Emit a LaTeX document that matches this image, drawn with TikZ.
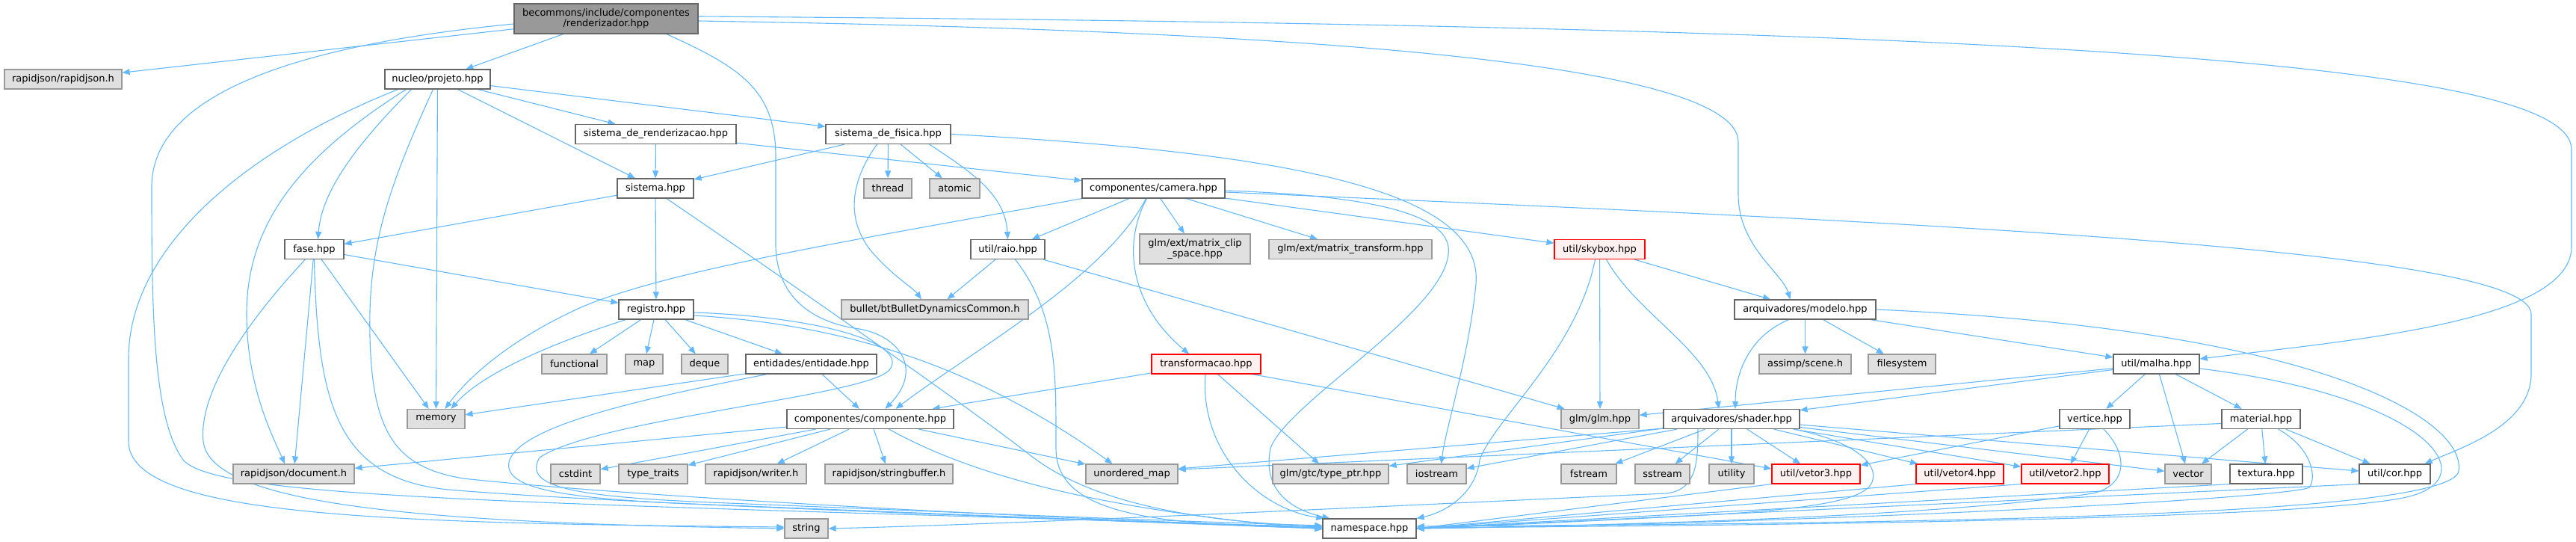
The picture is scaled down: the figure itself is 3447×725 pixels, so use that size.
\documentclass[tikz,border=0pt]{standalone}
\usepackage{fontspec}
\setmainfont{DejaVu Sans}
\usetikzlibrary{arrows.meta,calc}
\definecolor{edgec}{HTML}{63B8FF}
\definecolor{bdark}{HTML}{666666}
\definecolor{bgray}{HTML}{999999}
\definecolor{fgray}{HTML}{E0E0E0}
\definecolor{fred}{HTML}{FFF0F0}
\definecolor{bred}{HTML}{FF0000}
\pgfdeclarelayer{bg}
\pgfsetlayers{bg,main}
\begin{document}
\begin{tikzpicture}[x=1pt,y=-1pt,
  base/.style={draw, line width=1.2pt, minimum height=26pt, inner xsep=2pt, inner ysep=0pt,
    font=\fontsize{13}{14.5}\selectfont, align=center, text=black},
  nd/.style={base, draw=bdark, fill=white},
  ext/.style={base, draw=bgray, fill=fgray},
  redbox/.style={base, draw=bred, fill=fred},
  rootbox/.style={base, draw=bdark, fill=bgray, minimum height=40pt},
  dep/.style={draw=edgec, line width=1.1pt, -{Triangle[length=10pt,width=8pt]}}]
\useasboundingbox (0,0) rectangle (3447,725);

% ---------- nodes ----------
\node[rootbox, minimum width=246pt] (T) at (811,25) {becommons/include/componentes\\/renderizador.hpp};
\node[ext, minimum width=157pt] (rj) at (84.5,106) {rapidjson/rapidjson.h};
\node[nd, minimum width=141pt] (P) at (585.5,106) {nucleo/projeto.hpp};
\node[nd, minimum width=215pt] (SR) at (877.5,179.5) {sistema\_de\_renderizacao.hpp};
\node[nd, minimum width=167pt] (SF) at (1188.5,179.5) {sistema\_de\_fisica.hpp};
\node[nd, minimum width=102pt] (S) at (877,252) {sistema.hpp};
\node[ext, minimum width=64pt] (thread) at (1188,252) {thread};
\node[ext, minimum width=67pt] (atomic) at (1277.5,252) {atomic};
\node[nd, minimum width=191pt] (C) at (1543.5,252) {componentes/camera.hpp};
\node[nd, minimum width=79pt] (F) at (420.5,333.5) {fase.hpp};
\node[nd, minimum width=99pt] (R) at (1348.5,333.5) {util/raio.hpp};
\node[ext, minimum width=148pt, minimum height=40pt] (mcs) at (1599,333) {glm/ext/matrix\_clip\\\_space.hpp};
\node[ext, minimum width=218pt] (mt) at (1807,333.5) {glm/ext/matrix\_transform.hpp};
\node[redbox, minimum width=121pt] (SK) at (2140.5,333.5) {util/skybox.hpp};
\node[nd, minimum width=100pt] (RG) at (878,414) {registro.hpp};
\node[ext, minimum width=250pt] (bullet) at (1251,414) {bullet/btBulletDynamicsCommon.h};
\node[nd, minimum width=189pt] (M) at (2415.5,414) {arquivadores/modelo.hpp};
\node[ext, minimum width=87pt] (functional) at (768.5,487) {functional};
\node[ext, minimum width=50pt] (map) at (862,487) {map};
\node[ext, minimum width=62pt] (deque) at (943,487) {deque};
\node[nd, minimum width=175pt] (E) at (1085.5,487) {entidades/entidade.hpp};
\node[redbox, minimum width=146pt] (TR) at (1614,487) {transformacao.hpp};
\node[ext, minimum width=123pt] (assimp) at (2415.5,487) {assimp/scene.h};
\node[ext, minimum width=90pt] (filesystem) at (2545,487) {filesystem};
\node[nd, minimum width=115pt] (MA) at (2885.5,487) {util/malha.hpp};
\node[ext, minimum width=77pt] (memory) at (583.5,560.5) {memory};
\node[nd, minimum width=223pt] (CP) at (1164.5,560.5) {componentes/componente.hpp};
\node[ext, minimum width=104pt] (glm) at (2141,560.5) {glm/glm.hpp};
\node[nd, minimum width=182pt] (SH) at (2317,560.5) {arquivadores/shader.hpp};
\node[nd, minimum width=94pt] (V) at (2803,560.5) {vertice.hpp};
\node[nd, minimum width=105pt] (MT) at (3025.5,560.5) {material.hpp};
\node[ext, minimum width=162pt] (document) at (393,634) {rapidjson/document.h};
\node[ext, minimum width=66pt] (cstdint) at (770,634) {cstdint};
\node[ext, minimum width=92pt] (typetraits) at (874,634) {type\_traits};
\node[ext, minimum width=135pt] (writer) at (1011.5,634) {rapidjson/writer.h};
\node[ext, minimum width=171pt] (strbuf) at (1189.5,634) {rapidjson/stringbuffer.h};
\node[ext, minimum width=123pt] (umap) at (1514.5,634) {unordered\_map};
\node[ext, minimum width=155pt] (typeptr) at (1780.5,634) {glm/gtc/type\_ptr.hpp};
\node[ext, minimum width=79pt] (iostream) at (1922.5,634) {iostream};
\node[ext, minimum width=74pt] (fstream) at (2126,634) {fstream};
\node[ext, minimum width=73pt] (sstream) at (2224.5,634) {sstream};
\node[ext, minimum width=60pt] (utility) at (2317,634) {utility};
\node[redbox, minimum width=118pt] (v3) at (2430,634) {util/vetor3.hpp};
\node[redbox, minimum width=117pt] (v4) at (2622.5,634) {util/vetor4.hpp};
\node[redbox, minimum width=117pt] (v2) at (2763.5,634) {util/vetor2.hpp};
\node[ext, minimum width=62pt] (vector) at (2928,634) {vector};
\node[nd, minimum width=97pt] (textura) at (3032.5,634) {textura.hpp};
\node[nd, minimum width=95pt] (cor) at (3204.5,634) {util/cor.hpp};
\node[ext, minimum width=58pt] (string) at (1079,707) {string};
\node[nd, minimum width=125pt] (ns) at (1832.5,707) {namespace.hpp};

% ---------- edges ----------
\begin{pgfonlayer}{bg}
% renderizador
\draw[dep] (T) -- (rj);
\draw[dep] (T) -- (P);
\draw[dep] ($(T.west)+(0,7)$) .. controls (450,55) and (203,110) .. (203,250)
  .. controls (203,420) and (205,560) .. (245,615) .. controls (290,668) and (700,672) .. ($(ns.west)+(0,-2)$);
\draw[dep] ($(T.south)+(81,0)$) .. controls (990,90) and (1038,120) .. (1038,210) -- (1038,330)
  .. controls (1040,400) and (1090,432) .. (1150,440) .. controls (1205,450) and (1235,495) .. ($(CP.north)+(20,0)$);
\draw[dep] ($(T.east)+(0,3)$) .. controls (1700,40) and (2326,80) .. (2326,190) -- (2326,260)
  .. controls (2326,330) and (2385,365) .. ($(M.north)+(-20,0)$);
\draw[dep] ($(T.east)+(0,-3)$) .. controls (2800,35) and (3441,90) .. (3441,200) -- (3441,330)
  .. controls (3441,430) and (3150,455) .. ($(MA.east)+(0,-7)$);
% projeto
\draw[dep] (P) -- (memory);
\draw[dep] (P) -- (S);
\draw[dep] (P) -- (SR);
\draw[dep] (P) -- (SF);
\draw[dep] ($(P.south)+(-53,0)$) .. controls (330,200) and (172,330) .. (172,480) -- (172,590)
  .. controls (172,690) and (500,700) .. ($(string.west)+(0,-2)$);
\draw[dep] ($(P.south)+(-42,0)$) .. controls (400,210) and (330,300) .. (330,420)
  .. controls (330,520) and (368,590) .. ($(document.north)+(-12,0)$);
\draw[dep] ($(P.south)+(-35,0)$) .. controls (470,200) and (430,260) .. ($(F.north)+(5,0)$);
\draw[dep] ($(P.south)+(-6,0)$) .. controls (520,250) and (492,330) .. (495,450)
  .. controls (498,580) and (530,625) .. (620,640) .. controls (800,660) and (1300,690) .. ($(ns.west)+(0,-1)$);
% sistemas
\draw[dep] (SR) -- (S);
\draw[dep] (SR) -- (C);
\draw[dep] (SF) -- (S);
\draw[dep] (SF) -- (thread);
\draw[dep] (SF) -- (atomic);
\draw[dep] ($(SF.south)+(55,0)$) .. controls (1300,230) and (1345,260) .. (R.north);
\draw[dep] ($(SF.south)+(-15,0)$) .. controls (1140,240) and (1130,290) .. (1165,335)
  .. controls (1195,370) and (1222,385) .. ($(bullet.north)+(-18,0)$);
\draw[dep] (SF.east) .. controls (1750,205) and (1985,260) .. (1975,380)
  .. controls (1965,480) and (1935,570) .. ($(iostream.north)+(6,0)$);
\draw[dep] (S) -- (F);
\draw[dep] (S) -- (RG);
\draw[dep] ($(S.south)+(15,0)$) .. controls (1060,380) and (1290,540) .. (1380,610)
  .. controls (1460,672) and (1600,698) .. ($(ns.west)+(0,-3)$);
% camera
\draw[dep] (C) -- (R);
\draw[dep] (C) -- (mcs);
\draw[dep] (C) -- (mt);
\draw[dep] (C) -- (SK);
\draw[dep] (C.south west) .. controls (1150,320) and (900,360) .. (780,410)
  .. controls (690,450) and (630,500) .. ($(memory.north)+(12,0)$);
\draw[dep] ($(C.south)+(-10,0)$) .. controls (1480,370) and (1300,470) .. ($(CP.north)+(34,0)$);
\draw[dep] ($(C.south)+(-9,0)$) .. controls (1500,330) and (1515,410) .. ($(TR.north)+(-23,0)$);
\draw[dep] ($(C.east)+(0,3)$) .. controls (1850,262) and (1945,290) .. (1938,340)
  .. controls (1930,420) and (1720,540) .. (1700,600) .. controls (1690,650) and (1720,680) .. ($(ns.north west)+(10,0)$);
\draw[dep] ($(C.east)+(0,5)$) .. controls (2500,295) and (3387,330) .. (3387,420) -- (3387,500)
  .. controls (3387,570) and (3290,600) .. ($(cor.north east)+(-8,0)$);
% fase
\draw[dep] (F) -- (RG);
\draw[dep] (F) -- (memory);
\draw[dep] (F) -- (document);
\draw[dep] ($(F.south)+(-12,0)$) .. controls (340,420) and (265,520) .. (272,590)
  .. controls (280,680) and (600,700) .. (string.west);
\draw[dep] (F.south) .. controls (425,540) and (450,640) .. (600,655)
  .. controls (800,672) and (1300,690) .. (ns.west);
% raio, skybox
\draw[dep] (R) -- (bullet);
\draw[dep] (R) -- (glm);
\draw[dep] ($(R.south)+(10,0)$) .. controls (1415,420) and (1413,500) .. (1413,600)
  .. controls (1413,690) and (1550,702) .. ($(ns.west)+(0,-1)$);
\draw[dep] (SK) -- (glm);
\draw[dep] (SK) -- (M);
\draw[dep] ($(SK.south)+(-6,0)$) .. controls (2110,470) and (2000,560) .. (1980,615)
  .. controls (1975,660) and (1935,685) .. (ns.north east);
\draw[dep] ($(SK.south)+(9,0)$) .. controls (2190,420) and (2290,470) .. ($(SH.north)+(-17,0)$);
% registro
\draw[dep] (RG) -- (functional);
\draw[dep] (RG) -- (map);
\draw[dep] (RG) -- (deque);
\draw[dep] (RG) -- (E);
\draw[dep] ($(RG.south west)+(10,0)$) .. controls (720,465) and (640,505) .. ($(memory.north)+(20,0)$);
\draw[dep] ($(RG.east)+(0,8)$) .. controls (1150,435) and (1320,500) .. ($(umap.north)+(-26,0)$);
\draw[dep] ($(RG.east)+(0,4)$) .. controls (1100,424) and (1218,460) .. (1190,495)
  .. controls (1160,530) and (800,560) .. (722,612) .. controls (700,650) and (760,664) .. (950,672)
  .. controls (1200,682) and (1500,695) .. ($(ns.west)+(0,-4)$);
% entidade
\draw[dep] (E) -- (memory);
\draw[dep] (E) -- (CP);
\draw[dep] ($(E.south west)+(29,0)$) .. controls (850,535) and (700,570) .. (682,615)
  .. controls (668,655) and (760,668) .. (950,675) .. controls (1200,685) and (1500,697) .. (ns.west);
% transformacao
\draw[dep] (TR) -- (CP);
\draw[dep] (TR) -- (typeptr);
\draw[dep] ($(TR.south east)+(-12,0)$) -- ($(v3.west)+(0,-7)$);
\draw[dep] ($(TR.south)+(-1,0)$) .. controls (1605,600) and (1680,680) .. ($(ns.north west)+(2,0)$);
% componente
\draw[dep] (CP) -- (document);
\draw[dep] (CP) -- (cstdint);
\draw[dep] (CP) -- (typetraits);
\draw[dep] (CP) -- (writer);
\draw[dep] (CP) -- (strbuf);
\draw[dep] (CP) -- (umap);
\draw[dep] ($(CP.south)+(25,0)$) .. controls (1290,630) and (1450,680) .. ($(ns.west)+(0,1)$);
% modelo
\draw[dep] (M) -- (assimp);
\draw[dep] (M) -- (filesystem);
\draw[dep] (M) -- (MA);
\draw[dep] ($(M.south)+(-22,0)$) .. controls (2340,450) and (2322,500) .. ($(SH.north)+(5,0)$);
\draw[dep] (M.east) .. controls (3100,440) and (3300,560) .. (3290,630)
  .. controls (3280,690) and (2600,700) .. ($(ns.east)+(0,-3)$);
% malha
\draw[dep] (MA) -- (glm);
\draw[dep] (MA) -- (SH);
\draw[dep] (MA) -- (V);
\draw[dep] (MA) -- (vector);
\draw[dep] (MA) -- (MT);
\draw[dep] ($(MA.east)+(0,6)$) .. controls (3250,530) and (3330,640) .. (3220,665)
  .. controls (3100,692) and (2500,702) .. ($(ns.east)+(0,-1)$);
% shader
\draw[dep] ($(SH.south west)+(0,-1)$) -- ($(umap.east)+(0,-7)$);
\draw[dep] (SH) -- (typeptr);
\draw[dep] (SH) -- (iostream);
\draw[dep] (SH) -- (fstream);
\draw[dep] (SH) -- (sstream);
\draw[dep] (SH) -- (utility);
\draw[dep] (SH) -- (v3);
\draw[dep] (SH) -- (v4);
\draw[dep] (SH) -- (v2);
\draw[dep] (SH) -- (vector);
\draw[dep] (SH) -- (cor);
\draw[dep] ($(SH.south)+(-45,0)$) .. controls (2272,620) and (2270,655) .. (2230,660)
  .. controls (2000,670) and (1400,700) .. (string.east);
\draw[dep] ($(SH.south east)+(-8,0)$) .. controls (2480,590) and (2515,620) .. (2505,645)
  .. controls (2495,670) and (2420,680) .. (2300,688) .. controls (2150,696) and (2000,703) .. (ns.east);
% vertice, material
\draw[dep] (V) -- (v3);
\draw[dep] (V) -- (v2);
\draw[dep] ($(V.south)+(12,0)$) .. controls (2850,610) and (2845,650) .. (2800,660)
  .. controls (2600,690) and (2200,702) .. (ns.east);
\draw[dep] ($(MT.west)+(0,6)$) -- ($(umap.east)+(0,-6)$);
\draw[dep] (MT) -- (vector);
\draw[dep] (MT) -- (textura);
\draw[dep] (MT) -- (cor);
\draw[dep] ($(MT.south)+(23,0)$) .. controls (3095,600) and (3100,640) .. (3090,652)
  .. controls (3070,665) and (2500,698) .. (ns.east);
% leaves to namespace
\draw[dep] (v3.south west) -- (ns.east);
\draw[dep] (v4.south west) -- (ns.east);
\draw[dep] (v2.south west) -- (ns.east);
\draw[dep] (textura.south west) -- (ns.east);
\draw[dep] (cor.south west) -- (ns.east);
\end{pgfonlayer}
\end{tikzpicture}
\end{document}
